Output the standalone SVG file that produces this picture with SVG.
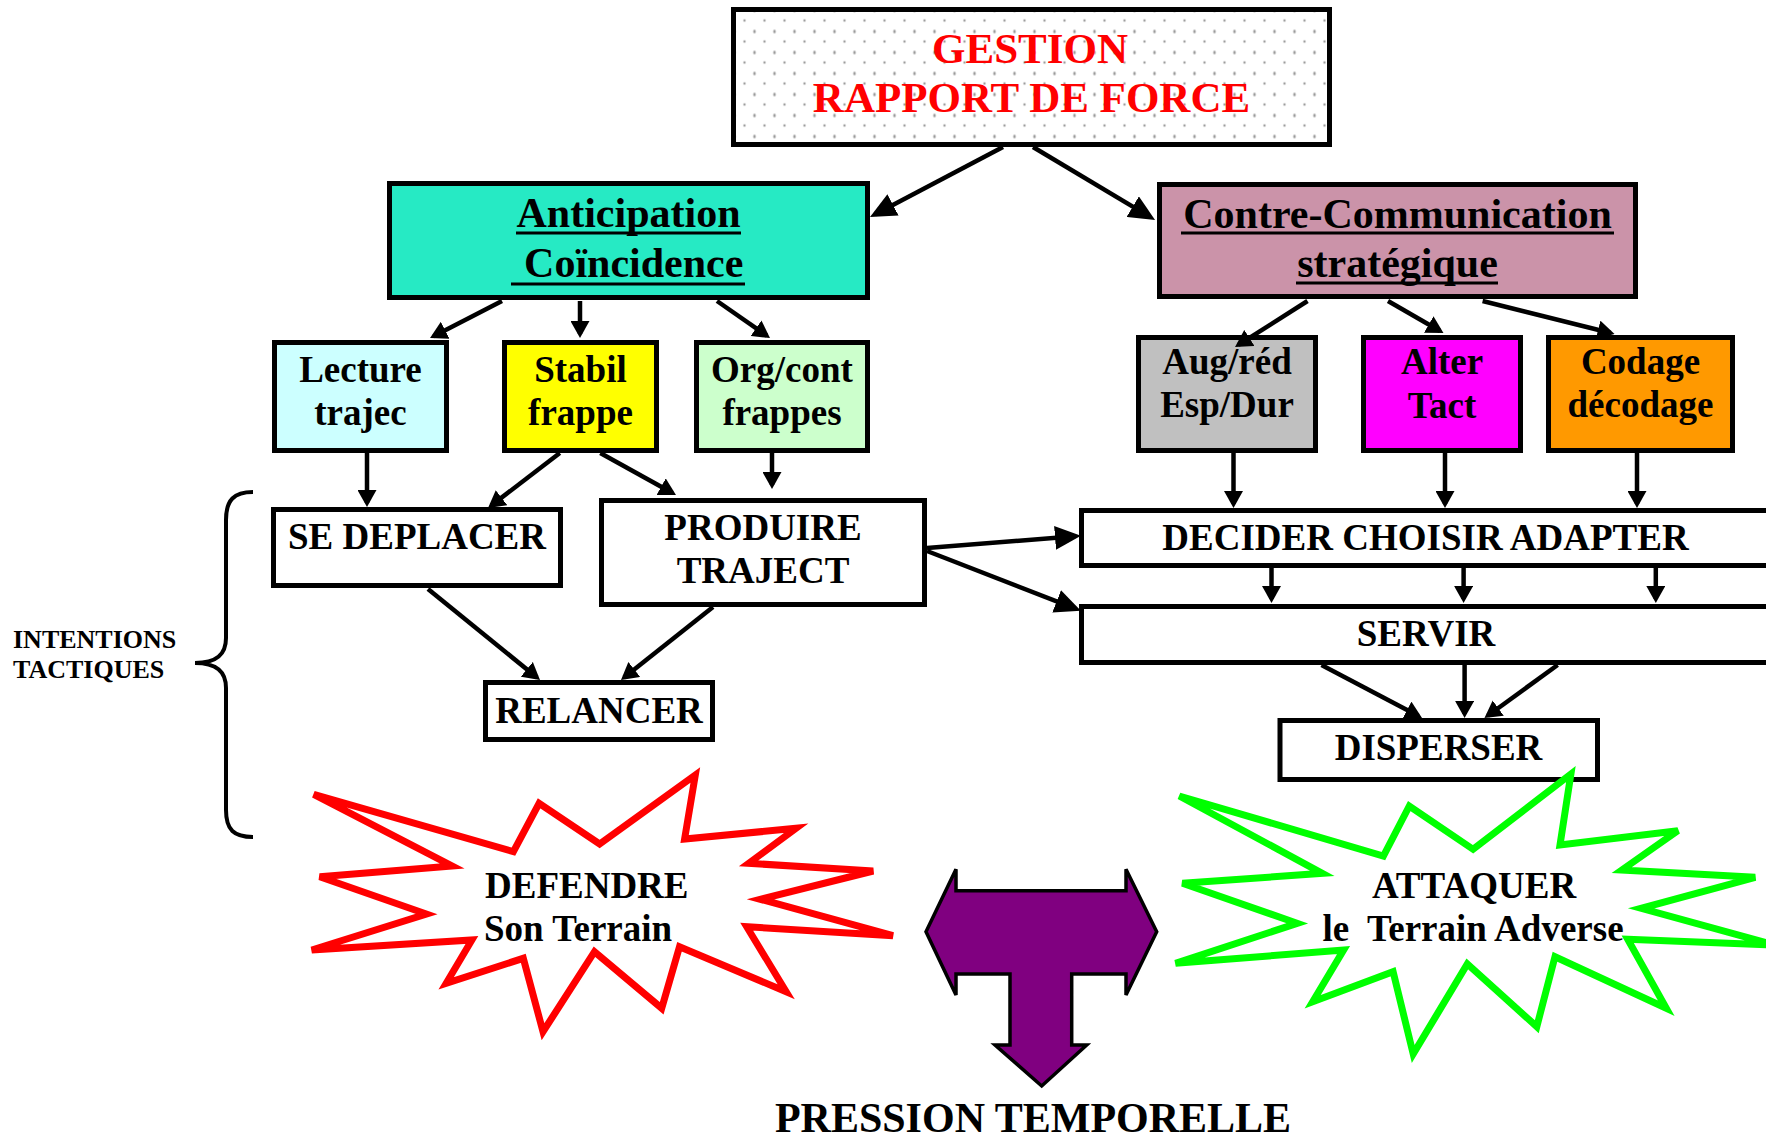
<svg xmlns="http://www.w3.org/2000/svg" width="1766" height="1139" viewBox="0 0 1766 1139">
<style>
text{font-family:"Liberation Serif","Times New Roman",serif;font-weight:bold;fill:#000;}
.box{stroke:#000;stroke-width:5;}
.c{text-anchor:middle;font-size:37px;}
.h{text-anchor:middle;font-size:42px;}
.ul{stroke:#000;stroke-width:3;}
.con line,.con path{stroke:#000;stroke-width:4.5;fill:none;}
</style>
<defs>
<pattern id="dots" x="734.5" y="10.5" width="20" height="21" patternUnits="userSpaceOnUse">
<rect width="20" height="21" fill="#fff"/>
<circle cx="10" cy="10" r="1.2" fill="#9a9a9a"/>
<circle cx="0" cy="0.5" r="1.2" fill="#9a9a9a"/>
<circle cx="20" cy="0.5" r="1.2" fill="#9a9a9a"/>
<circle cx="0" cy="20.5" r="1.2" fill="#9a9a9a"/>
<circle cx="20" cy="20.5" r="1.2" fill="#9a9a9a"/>
</pattern>
<marker id="ah" viewBox="0 0 17 19" refX="13" refY="9.5" markerWidth="17" markerHeight="19" markerUnits="userSpaceOnUse" orient="auto">
<path d="M0,0 L17,9.5 L0,19 Z" fill="#000"/>
</marker>
<marker id="ahL" viewBox="0 0 26 24" refX="20" refY="12" markerWidth="26" markerHeight="24" markerUnits="userSpaceOnUse" orient="auto">
<path d="M0,0 L26,12 L0,24 Z" fill="#000"/>
</marker>
</defs>

<g id="gestion">
<rect class="box" x="733.5" y="9.5" width="596" height="135" fill="url(#dots)"/>
<text x="1030" y="63" style="text-anchor:middle;font-size:43px;fill:#ff0000">GESTION</text>
<text x="1031.5" y="112" style="text-anchor:middle;font-size:43px;fill:#ff0000">RAPPORT DE FORCE</text>
</g>

<g id="anticipation">
<rect class="box" x="389.5" y="183.5" width="478" height="114" fill="#26EAC4"/>
<text class="h" x="628.5" y="227">Anticipation</text>
<text class="h" x="628.5" y="277" xml:space="preserve"> Coïncidence</text>
<line class="ul" x1="516" y1="233" x2="741" y2="233"/>
<line class="ul" x1="511" y1="284" x2="745" y2="284"/>
</g>

<g id="contre-communication">
<rect class="box" x="1159.5" y="184.5" width="476" height="112" fill="#CB93A9"/>
<text class="h" x="1397.5" y="228">Contre-Communication</text>
<text class="h" x="1397.5" y="277">stratégique</text>
<line class="ul" x1="1181" y1="233" x2="1614" y2="233"/>
<line class="ul" x1="1296" y1="283" x2="1498" y2="283"/>
</g>

<g id="lecture">
<rect class="box" x="274.5" y="342.5" width="172" height="108" fill="#CCFFFF"/>
<text class="c" x="360.5" y="382">Lecture</text>
<text class="c" x="360.5" y="425">trajec</text>
</g>
<g id="stabil">
<rect class="box" x="504.5" y="342.5" width="152" height="108" fill="#FFFF00"/>
<text class="c" x="580.5" y="382">Stabil</text>
<text class="c" x="580.5" y="425">frappe</text>
</g>
<g id="orgcont">
<rect class="box" x="696.5" y="342.5" width="171" height="108" fill="#CCFFCC"/>
<text class="c" x="782" y="382">Org/cont</text>
<text class="c" x="782" y="425">frappes</text>
</g>

<g id="augred">
<rect class="box" x="1138.5" y="337.5" width="177" height="113" fill="#C0C0C0"/>
<text class="c" x="1227" y="374">Aug/réd</text>
<text class="c" x="1227" y="417">Esp/Dur</text>
</g>
<g id="alter">
<rect class="box" x="1363.5" y="337.5" width="157" height="113" fill="#FF00FF"/>
<text class="c" x="1442" y="374">Alter</text>
<text class="c" x="1442" y="418">Tact</text>
</g>
<g id="codage">
<rect class="box" x="1548.5" y="337.5" width="184" height="113" fill="#FF9900"/>
<text class="c" x="1640.5" y="374">Codage</text>
<text class="c" x="1640.5" y="417">décodage</text>
</g>

<g id="se-deplacer">
<rect class="box" x="273.5" y="509.5" width="287" height="76" fill="#fff"/>
<text class="c" x="417" y="549">SE DEPLACER</text>
</g>
<g id="produire">
<rect class="box" x="601.5" y="500.5" width="323" height="104" fill="#fff"/>
<text class="c" x="763" y="540">PRODUIRE</text>
<text class="c" x="763" y="583">TRAJECT</text>
</g>
<g id="relancer">
<rect class="box" x="485.5" y="682.5" width="227" height="57" fill="#fff"/>
<text class="c" x="599" y="723">RELANCER</text>
</g>

<g id="decider">
<rect class="box" x="1081.5" y="510.5" width="700" height="55" fill="#fff"/>
<text class="c" x="1425.5" y="550">DECIDER CHOISIR ADAPTER</text>
</g>
<g id="servir">
<rect class="box" x="1081.5" y="606.5" width="700" height="56" fill="#fff"/>
<text class="c" x="1426" y="646">SERVIR</text>
</g>
<g id="disperser">
<rect class="box" x="1280" y="720.5" width="317.5" height="59" fill="#fff"/>
<text class="c" x="1438.5" y="760">DISPERSER</text>
</g>

<g id="intentions">
<text x="13" y="648" style="font-size:26px">INTENTIONS</text>
<text x="13" y="678" style="font-size:26px">TACTIQUES</text>
<path d="M253,492 C234,492 226,500 226,520 L226,638 C226,655 216,663 195,663 C216,663 226,671 226,688 L226,810 C226,830 234,837 253,837" fill="none" stroke="#000" stroke-width="4"/>
</g>

<g id="defendre">
<polygon points="313.7,794.3 513.4,851.7 539.1,803.3 599.6,844 695.3,775 684.6,839 796.1,828.3 748.7,863.3 873.2,871 760.5,899.3 893,935.7 746.7,926.7 786.2,991.7 679.5,946.7 661.7,1008.3 594.5,951.7 543,1031.7 523.3,958.3 446.2,983.3 471.9,940 311.7,950 426.4,914 319.7,876.7 452.1,866" fill="#fff" stroke="#ff0000" stroke-width="7"/>
<text x="485" y="898" style="font-size:37px">DEFENDRE</text>
<text x="484" y="941" style="font-size:37px">Son Terrain</text>
</g>

<g id="attaquer">
<polygon points="1179.3,796 1383.4,856 1409.3,806 1473.1,849.3 1570.9,774 1560,845 1677.9,830.7 1621.9,870 1755.2,877.3 1641.2,908.3 1775,945 1627.7,939.3 1666.3,1008.3 1555,956.7 1536.8,1026.7 1467.3,964 1413.2,1054 1393.1,971.7 1312.7,1001.7 1343.6,950 1175.5,963.3 1297.2,923.3 1182.4,883.3 1322.3,873.3" fill="#fff" stroke="#00ff00" stroke-width="7"/>
<text class="c" x="1474" y="898">ATTAQUER</text>
<text class="c" x="1473" y="941" xml:space="preserve">le  Terrain Adverse</text>
</g>

<g id="pression">
<polygon points="926,931.7 956,869.3 956,890.7 1126,890.7 1126,869.3 1156.7,931.7 1126,995 1126,974 1071.7,974 1071.7,1045 1086.7,1045 1041.7,1086 995,1045 1010,1045 1010,974 956,974 956,995" fill="#800080" stroke="#000" stroke-width="3.5" stroke-linejoin="miter"/>
<text class="h" x="1033" y="1132">PRESSION TEMPORELLE</text>
</g>

<g id="connectors" class="con">
<line x1="1003" y1="147" x2="875.3" y2="214.2" marker-end="url(#ahL)"/>
<line x1="1033" y1="147" x2="1149.9" y2="216.9" marker-end="url(#ahL)"/>
<line x1="502" y1="301" x2="433.6" y2="336.2" marker-end="url(#ah)"/>
<line x1="580" y1="301" x2="580" y2="334" marker-end="url(#ah)"/>
<line x1="717" y1="301" x2="766.7" y2="335.7" marker-end="url(#ah)"/>
<line x1="1307.5" y1="301" x2="1238.4" y2="344.9" marker-end="url(#ah)"/>
<line x1="1388" y1="301" x2="1440" y2="331" marker-end="url(#ah)"/>
<line x1="1482.6" y1="301" x2="1610.7" y2="333" marker-end="url(#ah)"/>
<line x1="367" y1="453" x2="367" y2="503" marker-end="url(#ah)"/>
<line x1="559.8" y1="453" x2="491.2" y2="505.6" marker-end="url(#ah)"/>
<line x1="600.3" y1="453" x2="672.5" y2="493" marker-end="url(#ah)"/>
<line x1="772" y1="453" x2="772" y2="485" marker-end="url(#ah)"/>
<line x1="1233.5" y1="453" x2="1233.5" y2="504" marker-end="url(#ah)"/>
<line x1="1445" y1="453" x2="1445" y2="504" marker-end="url(#ah)"/>
<line x1="1637" y1="453" x2="1637" y2="504" marker-end="url(#ah)"/>
<line x1="927" y1="548" x2="1075" y2="536.3" marker-end="url(#ahL)"/>
<line x1="927" y1="551" x2="1075.3" y2="608.6" marker-end="url(#ahL)"/>
<line x1="428" y1="589" x2="536.9" y2="677.5" marker-end="url(#ah)"/>
<line x1="713" y1="607" x2="624.1" y2="677.5" marker-end="url(#ah)"/>
<line x1="1271.5" y1="568" x2="1271.5" y2="599" marker-end="url(#ah)"/>
<line x1="1463.6" y1="568" x2="1463.6" y2="599" marker-end="url(#ah)"/>
<line x1="1655.8" y1="568" x2="1655.8" y2="599" marker-end="url(#ah)"/>
<line x1="1321.5" y1="665" x2="1418.5" y2="716.1" marker-end="url(#ah)"/>
<line x1="1464.6" y1="665" x2="1464.6" y2="714" marker-end="url(#ah)"/>
<line x1="1557.6" y1="665" x2="1487.7" y2="715.7" marker-end="url(#ah)"/>
</g>
</svg>
